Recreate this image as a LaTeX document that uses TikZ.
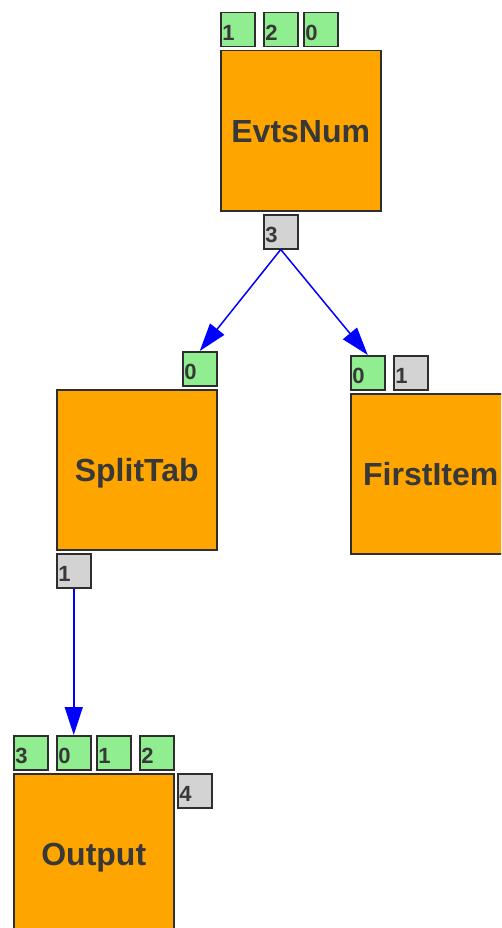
\documentclass[tikz,border=0pt]{standalone}
\usepackage{fontspec}
\setmainfont{Liberation Sans}
\usepackage{tikz}
\usetikzlibrary{arrows.meta}
\definecolor{blkorange}{HTML}{FFA500}
\definecolor{pingreen}{HTML}{90EE90}
\definecolor{pingray}{HTML}{D3D3D3}
\definecolor{blkline}{HTML}{2E2E2E}
\definecolor{blktext}{HTML}{383838}

\begin{document}
\begin{tikzpicture}[
    x=1pt,y=-1pt,
    blk/.style  = {rectangle,draw=blkline,line width=1.5pt,fill=blkorange,
                   minimum width=160pt,minimum height=160pt,inner sep=0pt,
                   anchor=north west,text=blktext,
                   font=\fontsize{32}{32}\selectfont\bfseries,
                   text height=23pt,text depth=0pt},
    pin/.style  = {rectangle,draw=blkline,line width=1.5pt,fill=pingreen,
                   minimum width=34pt,minimum height=34pt,inner sep=1.5pt,
                   text width=31pt,align=left,anchor=north west,text=blktext,
                   font=\fontsize{22}{22}\selectfont\bfseries,
                   text height=22pt,text depth=0pt},
    pout/.style = {pin,fill=pingray},
    fl/.style   = {-{Triangle[length=28pt,width=18pt]},blue,line width=1.5pt},
  ]

  \useasboundingbox (0,0) rectangle (501,928);
  \clip (0,0) rectangle (501,928);

  \node[blk]  (evts)     at (220,50)  {EvtsNum};
  \node[pin]  (evts-i1)  at (220,12)  {1};
  \node[pin]  (evts-i2)  at (263,12)  {2};
  \node[pin]  (evts-i0)  at (303,12)  {0};
  \node[pout] (evts-o3)  at (263,214) {3};

  \node[blk]  (split)    at (56,389)  {SplitTab};
  \node[pin]  (split-i0) at (182,351) {0};
  \node[pout] (split-o1) at (56,553)  {1};

  \node[blk]  (first)    at (350,393) {FirstItem};
  \node[pin]  (first-i0) at (350,355) {0};
  \node[pout] (first-o1) at (393,355) {1};

  \node[blk]  (out)      at (13,773)  {Output};
  \node[pin]  (out-i3)   at (13,735)  {3};
  \node[pin]  (out-i0)   at (56,735)  {0};
  \node[pin]  (out-i1)   at (96,735)  {1};
  \node[pin]  (out-i2)   at (139,735) {2};
  \node[pout] (out-o4)   at (177,773) {4};

  \foreach \a/\b in {evts-o3/split-i0,evts-o3/first-i0,split-o1/out-i0}
    \draw[fl] (\a.south) -- (\b.north);

\end{tikzpicture}
\end{document}
